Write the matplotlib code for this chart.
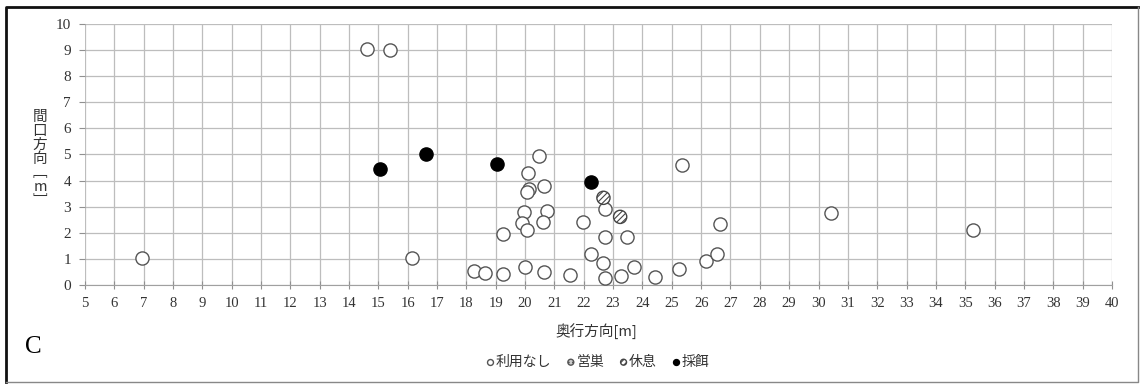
import matplotlib
matplotlib.use('Agg')
import matplotlib.pyplot as plt
from matplotlib.lines import Line2D

plt.rcParams['font.family'] = ['Liberation Serif', 'Noto Sans CJK JP', 'DejaVu Sans']
plt.rcParams['hatch.linewidth'] = 0.8

# 奥行方向 / 間口方向 [m] by usage type
none_x = [14.60, 15.40, 6.93, 20.49, 20.11, 20.63, 20.14, 20.07, 22.73, 20.76,
          19.96, 19.91, 20.61, 20.06, 21.96, 19.23, 22.72, 23.48, 25.34, 16.15,
          22.23, 22.65, 26.15, 18.26, 18.65, 19.23, 20.00, 20.65, 21.54, 22.74,
          23.26, 23.72, 24.43, 25.24, 26.63, 26.54, 30.41, 35.25]
none_y = [9.05, 8.99, 1.02, 4.96, 4.28, 3.81, 3.67, 3.55, 2.90, 2.84,
          2.79, 2.38, 2.43, 2.11, 2.43, 1.94, 1.84, 1.85, 4.61, 1.05,
          1.20, 0.83, 0.92, 0.52, 0.45, 0.42, 0.68, 0.50, 0.37, 0.26,
          0.36, 0.70, 0.32, 0.60, 2.33, 1.18, 2.75, 2.10]
nest_x = []
nest_y = []
rest_x = [22.67, 23.24]
rest_y = [3.34, 2.61]
feed_x = [15.07, 16.62, 19.05, 22.23]
feed_y = [4.45, 5.01, 4.65, 3.96]

cjk = ['Noto Sans CJK JP', 'DejaVu Sans']
txt = '#333333'

fig = plt.figure(figsize=(11.41, 3.87), dpi=100)
ax = fig.add_axes([0.0745, 0.2636, 0.9, 0.6744])

ms = 90
ax.scatter(none_x, none_y, s=ms, facecolor='white', edgecolor='#555555',
           linewidth=1.0, zorder=3, label='利用なし')
ax.scatter(nest_x, nest_y, s=ms, facecolor='#cccccc', edgecolor='#555555',
           hatch='....', linewidth=1.0, zorder=3, label='営巣')
ax.scatter(rest_x, rest_y, s=ms, facecolor='white', edgecolor='#444444',
           hatch='//////', linewidth=1.0, zorder=3, label='休息')
ax.scatter(feed_x, feed_y, s=ms, facecolor='black', edgecolor='black',
           linewidth=1.0, zorder=3, label='採餌')

ax.set_xlim(5, 40)
ax.set_ylim(0, 10)
ax.set_xticks(range(5, 41))
ax.set_yticks(range(0, 11))
ax.grid(True, color='#bdbdbd', linewidth=0.9, zorder=0)
ax.set_axisbelow(True)
for side in ['top', 'right', 'left']:
    ax.spines[side].set_visible(False)
ax.spines['bottom'].set_color('#a0a0a0')
ax.tick_params(axis='x', direction='inout', length=6, color='#909090',
               labelsize=10.5, pad=6, labelcolor=txt)
ax.tick_params(axis='y', direction='out', length=4, color='#909090',
               labelsize=11, pad=6, labelcolor=txt)

fig.text(0.523, 0.142, '奥行方向[m]', ha='center', va='center', fontsize=10.5,
         color=txt, family=cjk)
# vertical y label, brackets in their vertical forms
fig.text(0.035, 0.59, '間\n口\n方\n向\n﹇\nm\n﹈', ha='center', va='center',
         fontsize=10.5, color=txt, linespacing=1.0, family=cjk)
fig.text(0.029, 0.104, 'C', ha='center', va='center', fontsize=18,
         family='Liberation Serif')

leg = fig.legend(loc='center', bbox_to_anchor=(0.524, 0.065), ncol=4,
                 frameon=False, markerscale=0.45,
                 handlelength=0.6, handletextpad=0.1, columnspacing=1.1, borderpad=0,
                 prop={'family': cjk, 'size': 10})
for t in leg.get_texts():
    t.set_color(txt)

# outer frame: dark on top/left, light on right/bottom
fig.add_artist(Line2D([0.005, 0.005, 0.997], [0.012, 0.983, 0.983],
                      transform=fig.transFigure, color='#111111', linewidth=2.0))
fig.add_artist(Line2D([0.997, 0.997, 0.005], [0.983, 0.012, 0.012],
                      transform=fig.transFigure, color='#888888', linewidth=1.0))

fig.savefig('out.png', dpi=100)
